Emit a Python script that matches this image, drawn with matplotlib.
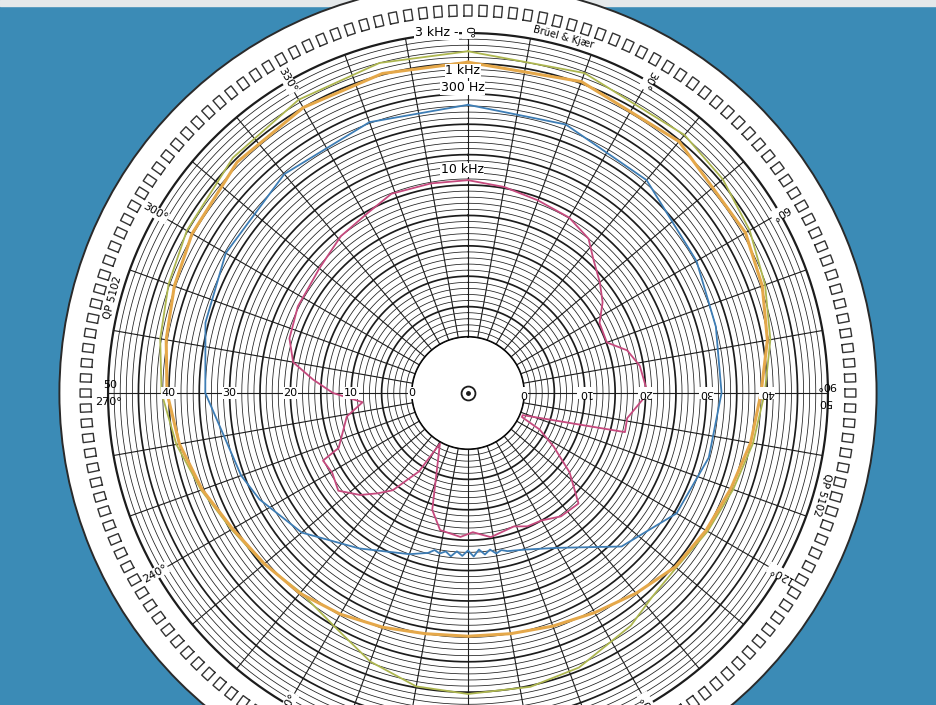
import numpy as np
import matplotlib
matplotlib.use("Agg")
import matplotlib.pyplot as plt
from matplotlib.patches import Rectangle, Circle

# polar response, angle in degrees (0 = on axis, clockwise), level in dB
ang_3k = [0, 20, 40, 50, 60, 70, 80, 90, 100, 110, 120, 130, 138, 145, 158, 168,
          180, 190, 200, 209, 220, 230, 240, 250, 260, 270, 280, 290, 300, 315,
          330, 345]
db_3k = [47.0, 46.8, 46.2, 45.5, 44.3, 42.8, 41.3, 39.6, 38.4, 37.2, 36.3, 35.5,
         36.0, 37.5, 39.5, 40.2, 40.3, 39.8, 37.8, 35.2, 33.6, 34.6, 35.7, 37.5,
         39.5, 41.2, 42.2, 43.2, 44.2, 45.5, 46.5, 47.0]

ang_1k = [0, 20, 40, 60, 70, 80, 90, 100, 110, 120, 130, 140, 150, 160, 170,
          180, 190, 200, 210, 220, 230, 240, 250, 260, 270, 280, 290, 300, 315,
          330, 345]
db_1k = [45.2, 45.3, 44.8, 43.5, 42.3, 40.8, 39.0, 38.0, 36.8, 36.0, 35.3, 33.8,
         32.5, 31.6, 31.0, 30.8, 31.0, 31.8, 32.8, 33.8, 34.5, 35.5, 37.3, 39.0,
         40.3, 41.2, 42.2, 43.2, 44.5, 45.0, 45.2]

ang_300 = [0, 20, 40, 60, 75, 90, 105, 120, 135, 150, 160, 166, 168, 170, 172,
           174, 176, 178, 180, 182, 184, 186, 188, 190, 192, 194, 200, 215, 230,
           243, 250, 270, 285, 300, 320, 340]
db_300 = [38.2, 37.8, 36.5, 34.2, 33.0, 32.5, 31.8, 30.4, 26.5, 20.2, 18.2, 17.6,
          17.2, 17.6, 16.8, 17.5, 16.6, 17.7, 16.7, 17.6, 16.9, 17.8, 17.1, 17.6,
          17.2, 17.9, 19.0, 22.0, 26.5, 29.3, 30.5, 34.0, 35.5, 36.8, 37.8, 38.2]

ang_10k = [0, 10, 20, 30, 38, 43, 50, 56, 62, 70, 75, 81, 89, 92, 99, 104, 112,
           114, 117, 122, 128, 135, 143, 150, 156, 161, 171, 178, 183, 191.5,
           197, 209, 212, 217.7, 222, 226.6, 233, 239.5, 245, 247, 259, 265,
           270, 275, 280, 287, 297, 303, 310, 321, 331, 339, 350]
db_10k = [25.8, 25.2, 24.5, 24.1, 23.0, 21.0, 19.1, 17.5, 15.3, 15.1, 17.9, 19.4,
          20.2, 19.6, 17.3, 17.4, 0.5, 0.5, 4.0, 7.4, 12.0, 16.5, 16.2, 15.0,
          14.8, 14.0, 14.8, 13.7, 14.5, 13.8, 10.9, 0.3, 6.0, 11.0, 13.0, 15.2,
          17.5, 16.7, 17.1, 13.9, 11.1, 8.2, 13.0, 16.4, 20.0, 21.5, 22.2, 22.2,
          22.7, 24.0, 24.7, 25.9, 25.8]

ring_db = list(range(0, 51))
spoke_deg = list(range(0, 360, 10))
scale_labels = ["0", "10", "20", "30", "40"]
angle_labels = [30, 60, 120, 150, 210, 240, 300, 330]

BLUE_BG = "#3b8bb6"
INK = "#1c1c1c"


def closed(a, d):
    a = np.deg2rad(list(a) + [a[0] + 360])
    return a, list(d) + [d[0]]


fig = plt.figure(figsize=(9.37, 7.05), dpi=100, facecolor=BLUE_BG)
fig.patches.append(Rectangle((0, 0.992), 1, 0.008, transform=fig.transFigure,
                             color="#e4e8ea", zorder=-1))

# chart paper: centre at (468, 393) px, edge radius ~408 px
ax = fig.add_axes([0.0634, -0.1370, 0.8721, 1.1591], projection="polar")
ax.set_theta_zero_location("N")
ax.set_theta_direction(-1)
ax.set_rorigin(-9.21)
ax.set_rlim(0, 58)
ax.set_xticks([])
ax.set_yticks([])
ax.grid(False)
ax.set_facecolor("white")
ax.spines["polar"].set_color("#2a2a2a")
ax.spines["polar"].set_linewidth(1.4)
# the centre hole of the annulus is paper too
ax.add_patch(Circle((0.5, 0.5), 0.075, transform=ax.transAxes,
                    facecolor="white", edgecolor="none", clip_on=False,
                    zorder=0))

# rings
full = np.linspace(0, 2 * np.pi, 721)
for d in ring_db:
    if d in (0, 50):
        lw = 1.6
    elif d % 5 == 0:
        lw = 1.25
    else:
        lw = 0.55
    ax.plot(full, np.full_like(full, d), color=INK, lw=lw, zorder=1)

# spokes
for a in spoke_deg:
    t = np.deg2rad(a)
    ax.plot([t, t], [0, 50], color=INK, lw=0.8, zorder=1)

# sprocket holes
hx, hy = [], []
for k in range(160):
    c = k * 360 / 160
    dl = 0.6
    for a, r in [(c - dl, 52.8), (c + dl, 52.8), (c + dl, 54.6), (c - dl, 54.6),
                 (c - dl, 52.8)]:
        hx.append(np.deg2rad(a))
        hy.append(r)
    hx.append(np.nan)
    hy.append(np.nan)
ax.plot(hx, hy, color="#333333", lw=1.0, zorder=2)

# response curves
for a, d, col, lw in [(ang_3k, db_3k, "#adb64f", 1.3),
                      (ang_1k, db_1k, "#e5a84a", 2.2),
                      (ang_300, db_300, "#3d7db5", 1.3),
                      (ang_10k, db_10k, "#c64a7e", 1.3)]:
    t, r = closed(a, d)
    ax.plot(t, r, color=col, lw=lw, zorder=4, solid_joinstyle="round")

box = dict(facecolor="white", edgecolor="none", pad=0.6)

# scale numbers along the 270/90 axis
for i, s in enumerate(scale_labels):
    ax.text(np.deg2rad(270), i * 10, s, fontsize=8, ha="center", va="center",
            bbox=box, zorder=6)
    ax.text(np.deg2rad(90), i * 10, s, fontsize=8, ha="center", va="center",
            rotation=180, bbox=box, zorder=6)
ax.text(np.deg2rad(271.3), 49.6, "50", fontsize=8, ha="center", va="center",
        zorder=6)
ax.text(np.deg2rad(268.6), 50.0, "270°", fontsize=8, ha="center", va="center",
        zorder=6)
ax.text(np.deg2rad(88.7), 49.8, "90°", fontsize=8, ha="center", va="center",
        rotation=180, zorder=6)
ax.text(np.deg2rad(91.4), 49.6, "50", fontsize=8, ha="center", va="center",
        rotation=180, zorder=6)

# angle labels at the outer ring
for a in angle_labels:
    ax.text(np.deg2rad(a), 50.2, f"{a}°", fontsize=8, ha="center", va="center",
            rotation=270 - a, rotation_mode="anchor", bbox=box, zorder=6)
ax.text(0, 50.2, "0°", fontsize=8, ha="center", va="center", rotation=-90,
        rotation_mode="anchor", bbox=box, zorder=6)
ax.text(np.deg2rad(355.0), 50.3, "3 kHz -", fontsize=9, ha="center",
        va="center", bbox=box, zorder=6)

# curve names
for a, r, s in [(359.1, 43.8, "1 kHz"), (359.0, 41.0, "300 Hz"),
                (358.5, 27.5, "10 kHz")]:
    ax.text(np.deg2rad(a), r, s, fontsize=9, ha="center", va="center",
            bbox=dict(facecolor="white", edgecolor="none", pad=0.5), zorder=6)

# printing on the rim
ax.text(np.deg2rad(15), 51.3, "Brüel & Kjær", fontsize=7, ha="center",
        va="center", rotation=-15, rotation_mode="anchor", zorder=6)
ax.text(np.deg2rad(285), 51.3, "QP 5102", fontsize=7.5, ha="center",
        va="center", rotation=75, rotation_mode="anchor", zorder=6)
ax.text(np.deg2rad(106), 51.3, "QP 5102", fontsize=7.5, ha="center",
        va="center", rotation=-106, rotation_mode="anchor", zorder=6)

# centre mark
ax.plot(0.5, 0.5, transform=ax.transAxes, marker="o", ms=10, mfc="white",
        mec=INK, mew=1.3, zorder=7, clip_on=False)
ax.plot(0.5, 0.5, transform=ax.transAxes, marker="o", ms=2.5, color=INK,
        zorder=8, clip_on=False)

fig.savefig("out.png", dpi=100, facecolor=fig.get_facecolor())
